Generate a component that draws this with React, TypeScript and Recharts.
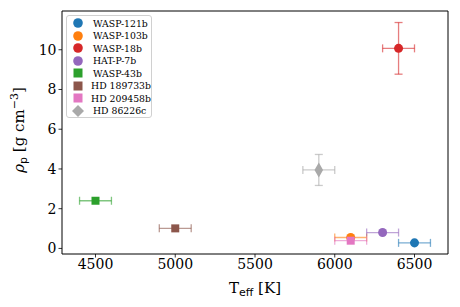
import React from 'react';
import {
  ScatterChart,
  Scatter,
  XAxis,
  YAxis,
  ErrorBar,
  ReferenceLine
} from 'recharts';

if (typeof document !== 'undefined') document.body.style.margin = '0';

// planet, T_eff [K], density [g cm^-3], errors
const planets = ['WASP-121b', 'WASP-103b', 'WASP-18b', 'HAT-P-7b', 'WASP-43b', 'HD 189733b', 'HD 209458b', 'HD 86226c'];
const teff = [6500, 6100, 6400, 6300, 4500, 5000, 6100, 5900];
const density = [0.28, 0.55, 10.07, 0.8, 2.4, 1.01, 0.39, 3.95];
const teffErr = [100, 100, 100, 100, 100, 100, 100, 100];
const densityErr = [0, 0, 1.3, 0, 0, 0, 0, 0.78];
const colors = ['#1f77b4', '#ff7f0e', '#d62728', '#9467bd', '#2ca02c', '#8c564b', '#e377c2', '#a9a9a9'];
const shapes: ('circle' | 'square' | 'diamond')[] = ['circle', 'circle', 'circle', 'circle', 'square', 'square', 'square', 'diamond'];

const xTicks = [4500, 5000, 5500, 6000, 6500];
const yTicks = [0, 2, 4, 6, 8, 10];
const xDomain: [number, number] = [4290, 6710];
const yDomain: [number, number] = [-0.28, 11.95];

const FONT = 'DejaVu Serif';

const markerSize = (s: string) => (s === 'circle' ? 40 : s === 'square' ? 58 : 34);

const LegendMarker = ({ shape, color }: { shape: string; color: string }) => (
  <svg width={14} height={12} style={{ display: 'block' }}>
    {shape === 'circle' && <circle cx={7} cy={6} r={4.8} fill={color} />}
    {shape === 'square' && <rect x={2.5} y={1.5} width={9} height={9} fill={color} />}
    {shape === 'diamond' && <polygon points="7,0 13,6 7,12 1,6" fill={color} />}
  </svg>
);

const ChartLegend = () => (
  <div
    style={{
      position: 'absolute',
      top: 15,
      left: 66,
      boxSizing: 'border-box',
      width: 86,
      height: 103,
      border: '1px solid #d0d0d0',
      borderRadius: 3,
      background: 'rgba(255,255,255,0.8)',
      padding: '1px 0 0 4px',
      fontFamily: FONT,
      fontSize: 9.3,
      lineHeight: 1
    }}
  >
    {planets.map((p, i) => (
      <div key={p} style={{ display: 'flex', alignItems: 'center', height: 12.5 }}>
        <LegendMarker shape={shapes[i]} color={colors[i]} />
        <span style={{ marginLeft: 8, whiteSpace: 'nowrap' }}>{p}</span>
      </div>
    ))}
  </div>
);

const App: React.FC = () => {
  return (
    <div style={{ position: 'relative', width: 460, height: 307, background: '#fff' }}>
      <ScatterChart width={460} height={307} margin={{ top: 11, right: 12, bottom: 13, left: 12 }}>
        <XAxis
          type="number"
          dataKey="x"
          domain={xDomain}
          ticks={xTicks}
          allowDataOverflow
          height={40}
          tickSize={3.5}
          axisLine={{ stroke: '#000', strokeWidth: 1 }}
          tickLine={{ stroke: '#000', strokeWidth: 0.8 }}
          tick={{ fill: '#000', fontSize: 14, fontFamily: FONT }}
          label={{
            position: 'insideBottom',
            content: () => (
              <text x={255} y={293} textAnchor="middle" fontFamily={FONT} fontSize={15} fill="#000">
                T
                <tspan fontFamily="DejaVu Sans" fontSize={11} dy={3}>eff</tspan>
                <tspan dy={-3}> [K]</tspan>
              </text>
            )
          }}
        />
        <YAxis
          type="number"
          dataKey="y"
          domain={yDomain}
          ticks={yTicks}
          allowDataOverflow
          width={50}
          tickSize={3.5}
          axisLine={{ stroke: '#000', strokeWidth: 1 }}
          tickLine={{ stroke: '#000', strokeWidth: 0.8 }}
          tick={{ fill: '#000', fontSize: 14, fontFamily: FONT }}
          label={{
            position: 'insideLeft',
            content: () => (
              <text
                x={0}
                y={0}
                transform="translate(24,130) rotate(-90)"
                textAnchor="middle"
                fontFamily={FONT}
                fontSize={15}
                fill="#000"
              >
                <tspan fontStyle="italic">ρ</tspan>
                <tspan fontFamily="DejaVu Sans" fontSize={11} dy={3}>p</tspan>
                <tspan dy={-3}> [g cm</tspan>
                <tspan fontSize={11} dy={-6}>−3</tspan>
                <tspan dy={6}>]</tspan>
              </text>
            )
          }}
        />
        <ReferenceLine y={yDomain[1]} stroke="#000" strokeWidth={1} ifOverflow="visible" />
        <ReferenceLine x={xDomain[1]} stroke="#000" strokeWidth={1} ifOverflow="visible" />
        {planets.map((p, i) => (
          <Scatter
            key={p}
            name={p}
            data={[{ x: teff[i], y: density[i], xe: teffErr[i], ye: densityErr[i] }]}
            fill={colors[i]}
            shape={shapes[i]}
            isAnimationActive={false}
            {...({ size: markerSize(shapes[i]) } as any)}
          >
            <ErrorBar dataKey="xe" direction="x" width={4} stroke={colors[i]} strokeWidth={1.3} strokeOpacity={0.6} />
            {densityErr[i] > 0 && (
              <ErrorBar dataKey="ye" direction="y" width={4} stroke={colors[i]} strokeWidth={1.3} strokeOpacity={0.6} />
            )}
          </Scatter>
        ))}
      </ScatterChart>
      <ChartLegend />
    </div>
  );
};

export default App;
